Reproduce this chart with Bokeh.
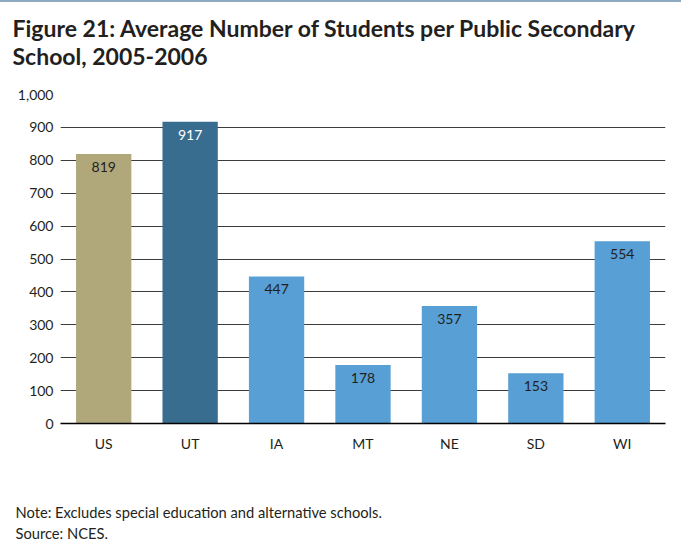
from bokeh.plotting import figure
from bokeh.models import (ColumnDataSource, Range1d, FixedTicker, NumeralTickFormatter,
                          LabelSet, Title)
from bokeh.core.properties import value
from bokeh.embed import file_html
from bokeh.resources import INLINE

categories = ["US", "UT", "IA", "MT", "NE", "SD", "WI"]
values = [819, 917, 447, 178, 357, 153, 554]
bar_colors = ["#b0a87b", "#386d8f", "#579fd4", "#579fd4", "#579fd4", "#579fd4", "#579fd4"]
label_colors = ["#231f20", "#ffffff", "#231f20", "#231f20", "#231f20", "#231f20", "#231f20"]
y_ticks = [0, 100, 200, 300, 400, 500, 600, 700, 800, 900, 1000]

title_text = "Figure 21:  Average Number of Students per Public Secondary\nSchool, 2005-2006"
note_text = "Note: Excludes special education and alternative schools.\nSource: NCES."

FONT = "Lato"
INK = "#231f20"

src = ColumnDataSource(dict(cat=categories, val=values, color=bar_colors,
                            lcolor=label_colors, txt=[str(v) for v in values]))

p = figure(x_range=categories, y_range=Range1d(0, 1000), width=681, height=544,
           output_backend="svg", toolbar_location=None,
           min_border_left=60, min_border_right=16, min_border_top=92, min_border_bottom=123)
p.styles = {"border-top": "2px solid #8ea8bd"}
p.outline_line_color = None
p.background_fill_color = "white"
p.border_fill_color = "white"

p.vbar(x="cat", top="val", width=0.64, fill_color="color", line_color=None, source=src)

p.add_layout(LabelSet(x="cat", y="val", text="txt", source=src, y_offset=-18,
                      text_align="center", text_baseline="alphabetic",
                      text_color="lcolor", text_font=value(FONT), text_font_size="14px"))

p.xgrid.grid_line_color = None
p.ygrid.grid_line_color = "#3c3c3c"
p.ygrid.grid_line_width = 1
p.ygrid.ticker = FixedTicker(ticks=y_ticks)

p.yaxis.ticker = FixedTicker(ticks=y_ticks)
p.yaxis.formatter = NumeralTickFormatter(format="0,0")
p.yaxis.axis_line_color = None
p.yaxis.major_tick_line_color = None
p.yaxis.minor_tick_line_color = None
p.yaxis.major_label_standoff = 1
p.yaxis.major_label_text_font = FONT
p.yaxis.major_label_text_font_size = "14px"
p.yaxis.major_label_text_color = INK

p.xaxis.axis_line_color = "#000000"
p.xaxis.axis_line_width = 1.5
p.xaxis.major_tick_line_color = None
p.xaxis.minor_tick_line_color = None
p.xaxis.major_label_standoff = 5
p.xaxis.major_label_text_font = FONT
p.xaxis.major_label_text_font_size = "14px"
p.xaxis.major_label_text_color = INK

# title (outermost above) + spacer between title and plot frame
p.title = Title(text=title_text, align="left", offset=-48, text_font=FONT,
                text_font_size="23px", text_font_style="bold", text_color=INK,
                text_line_height=1.0, standoff=4)
p.add_layout(Title(text=" ", text_font_size="1px", standoff=20), "above")

# spacer below the x axis, then the notes
p.add_layout(Title(text=" ", text_font_size="1px", standoff=42), "below")
p.add_layout(Title(text=note_text, align="left", offset=-45, text_font=FONT,
                   text_font_size="14.7px", text_font_style="normal", text_color=INK,
                   text_line_height=1.22, standoff=2), "below")

open("out.html", "w").write(file_html(p, INLINE))
